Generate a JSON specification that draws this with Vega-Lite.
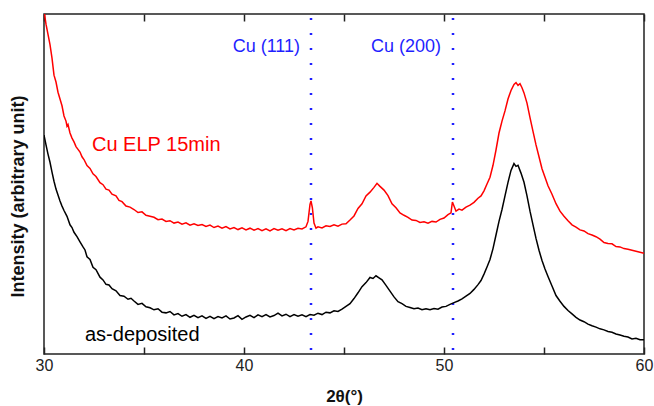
{
  "$schema": "https://vega.github.io/schema/vega-lite/v6.json",
  "width": 600,
  "height": 340,
  "autosize": {"type": "none"},
  "padding": {"left": 44, "top": 14, "right": 10, "bottom": 52},
  "config": {
    "view": {"stroke": "#222", "strokeWidth": 1.5},
    "font": "Liberation Sans",
    "axis": {"grid": false, "domainColor": "#222", "domainWidth": 1.5, "tickColor": "#222", "tickWidth": 1.5}
  },
  "datasets": {
    "curves": [
      {"x":30.0,"v":101,"s":"Cu ELP 15min"},{"x":30.1,"v":97,"s":"Cu ELP 15min"},{"x":30.2,"v":94,"s":"Cu ELP 15min"},{"x":30.3,"v":91,"s":"Cu ELP 15min"},{"x":30.4,"v":87,"s":"Cu ELP 15min"},{"x":30.5,"v":82,"s":"Cu ELP 15min"},{"x":30.6,"v":80,"s":"Cu ELP 15min"},{"x":30.7,"v":77,"s":"Cu ELP 15min"},{"x":30.8,"v":75,"s":"Cu ELP 15min"},{"x":30.9,"v":73,"s":"Cu ELP 15min"},
      {"x":31.0,"v":70,"s":"Cu ELP 15min"},{"x":31.1,"v":68.5,"s":"Cu ELP 15min"},{"x":31.15,"v":67,"s":"Cu ELP 15min"},{"x":31.2,"v":67.5,"s":"Cu ELP 15min"},{"x":31.3,"v":65,"s":"Cu ELP 15min"},{"x":31.4,"v":63.5,"s":"Cu ELP 15min"},{"x":31.5,"v":62.4,"s":"Cu ELP 15min"},{"x":31.6,"v":61,"s":"Cu ELP 15min"},{"x":31.7,"v":60.2,"s":"Cu ELP 15min"},{"x":31.8,"v":59.4,"s":"Cu ELP 15min"},
      {"x":31.9,"v":58,"s":"Cu ELP 15min"},{"x":32.0,"v":57.2,"s":"Cu ELP 15min"},{"x":32.15,"v":55.4,"s":"Cu ELP 15min"},{"x":32.3,"v":54.6,"s":"Cu ELP 15min"},{"x":32.45,"v":53,"s":"Cu ELP 15min"},{"x":32.6,"v":52.2,"s":"Cu ELP 15min"},{"x":32.8,"v":50.4,"s":"Cu ELP 15min"},{"x":32.95,"v":49.8,"s":"Cu ELP 15min"},{"x":33.1,"v":48.5,"s":"Cu ELP 15min"},{"x":33.25,"v":48.2,"s":"Cu ELP 15min"},
      {"x":33.4,"v":47,"s":"Cu ELP 15min"},{"x":33.6,"v":46.5,"s":"Cu ELP 15min"},{"x":33.75,"v":45.2,"s":"Cu ELP 15min"},{"x":33.9,"v":44.8,"s":"Cu ELP 15min"},{"x":34.1,"v":43.5,"s":"Cu ELP 15min"},{"x":34.3,"v":43.2,"s":"Cu ELP 15min"},{"x":34.5,"v":42.5,"s":"Cu ELP 15min"},{"x":34.7,"v":41.6,"s":"Cu ELP 15min"},{"x":34.9,"v":41.8,"s":"Cu ELP 15min"},{"x":35.1,"v":40.8,"s":"Cu ELP 15min"},
      {"x":35.3,"v":40.5,"s":"Cu ELP 15min"},{"x":35.5,"v":40.2,"s":"Cu ELP 15min"},{"x":35.7,"v":39.5,"s":"Cu ELP 15min"},{"x":35.9,"v":39.7,"s":"Cu ELP 15min"},{"x":36.1,"v":39.0,"s":"Cu ELP 15min"},{"x":36.3,"v":39.2,"s":"Cu ELP 15min"},{"x":36.5,"v":38.5,"s":"Cu ELP 15min"},{"x":36.7,"v":38.8,"s":"Cu ELP 15min"},{"x":36.9,"v":38.2,"s":"Cu ELP 15min"},{"x":37.1,"v":38.6,"s":"Cu ELP 15min"},
      {"x":37.3,"v":37.9,"s":"Cu ELP 15min"},{"x":37.5,"v":38.3,"s":"Cu ELP 15min"},{"x":37.7,"v":37.8,"s":"Cu ELP 15min"},{"x":37.9,"v":38.1,"s":"Cu ELP 15min"},{"x":38.1,"v":37.5,"s":"Cu ELP 15min"},{"x":38.3,"v":37.9,"s":"Cu ELP 15min"},{"x":38.5,"v":37.2,"s":"Cu ELP 15min"},{"x":38.7,"v":37.6,"s":"Cu ELP 15min"},{"x":38.9,"v":37.0,"s":"Cu ELP 15min"},{"x":39.1,"v":37.5,"s":"Cu ELP 15min"},
      {"x":39.3,"v":36.8,"s":"Cu ELP 15min"},{"x":39.5,"v":37.2,"s":"Cu ELP 15min"},{"x":39.7,"v":36.6,"s":"Cu ELP 15min"},{"x":39.9,"v":37.1,"s":"Cu ELP 15min"},{"x":40.1,"v":36.5,"s":"Cu ELP 15min"},{"x":40.3,"v":37.0,"s":"Cu ELP 15min"},{"x":40.5,"v":36.4,"s":"Cu ELP 15min"},{"x":40.7,"v":36.9,"s":"Cu ELP 15min"},{"x":40.9,"v":36.3,"s":"Cu ELP 15min"},{"x":41.1,"v":36.8,"s":"Cu ELP 15min"},
      {"x":41.3,"v":36.2,"s":"Cu ELP 15min"},{"x":41.5,"v":36.9,"s":"Cu ELP 15min"},{"x":41.7,"v":36.4,"s":"Cu ELP 15min"},{"x":41.9,"v":36.8,"s":"Cu ELP 15min"},{"x":42.1,"v":36.3,"s":"Cu ELP 15min"},{"x":42.3,"v":36.9,"s":"Cu ELP 15min"},{"x":42.5,"v":36.5,"s":"Cu ELP 15min"},{"x":42.7,"v":37.0,"s":"Cu ELP 15min"},{"x":42.9,"v":36.8,"s":"Cu ELP 15min"},{"x":43.1,"v":37.4,"s":"Cu ELP 15min"},
      {"x":43.2,"v":39,"s":"Cu ELP 15min"},{"x":43.3,"v":44,"s":"Cu ELP 15min"},{"x":43.35,"v":45,"s":"Cu ELP 15min"},{"x":43.42,"v":43,"s":"Cu ELP 15min"},{"x":43.5,"v":38.5,"s":"Cu ELP 15min"},{"x":43.6,"v":37.0,"s":"Cu ELP 15min"},{"x":43.7,"v":37.4,"s":"Cu ELP 15min"},{"x":43.9,"v":37.1,"s":"Cu ELP 15min"},{"x":44.1,"v":37.7,"s":"Cu ELP 15min"},{"x":44.3,"v":37.5,"s":"Cu ELP 15min"},
      {"x":44.5,"v":38.0,"s":"Cu ELP 15min"},{"x":44.7,"v":37.6,"s":"Cu ELP 15min"},{"x":44.9,"v":38.2,"s":"Cu ELP 15min"},{"x":45.1,"v":38.3,"s":"Cu ELP 15min"},{"x":45.3,"v":39.4,"s":"Cu ELP 15min"},{"x":45.5,"v":40.6,"s":"Cu ELP 15min"},{"x":45.7,"v":42.8,"s":"Cu ELP 15min"},{"x":45.9,"v":44.2,"s":"Cu ELP 15min"},{"x":46.1,"v":46.5,"s":"Cu ELP 15min"},{"x":46.3,"v":47.6,"s":"Cu ELP 15min"},
      {"x":46.5,"v":49.0,"s":"Cu ELP 15min"},{"x":46.65,"v":50.2,"s":"Cu ELP 15min"},{"x":46.8,"v":49.3,"s":"Cu ELP 15min"},{"x":47.0,"v":48.2,"s":"Cu ELP 15min"},{"x":47.2,"v":46.6,"s":"Cu ELP 15min"},{"x":47.4,"v":44.2,"s":"Cu ELP 15min"},{"x":47.6,"v":43.0,"s":"Cu ELP 15min"},{"x":47.8,"v":41.5,"s":"Cu ELP 15min"},{"x":48.0,"v":40.8,"s":"Cu ELP 15min"},{"x":48.2,"v":40.2,"s":"Cu ELP 15min"},
      {"x":48.4,"v":39.4,"s":"Cu ELP 15min"},{"x":48.6,"v":39.3,"s":"Cu ELP 15min"},{"x":48.8,"v":38.7,"s":"Cu ELP 15min"},{"x":49.0,"v":38.9,"s":"Cu ELP 15min"},{"x":49.2,"v":38.5,"s":"Cu ELP 15min"},{"x":49.4,"v":39.0,"s":"Cu ELP 15min"},{"x":49.6,"v":38.8,"s":"Cu ELP 15min"},{"x":49.8,"v":39.6,"s":"Cu ELP 15min"},{"x":50.0,"v":40.0,"s":"Cu ELP 15min"},{"x":50.2,"v":41.0,"s":"Cu ELP 15min"},
      {"x":50.35,"v":41.5,"s":"Cu ELP 15min"},{"x":50.42,"v":44.7,"s":"Cu ELP 15min"},{"x":50.5,"v":43.5,"s":"Cu ELP 15min"},{"x":50.6,"v":42.0,"s":"Cu ELP 15min"},{"x":50.75,"v":42.6,"s":"Cu ELP 15min"},{"x":50.9,"v":42.3,"s":"Cu ELP 15min"},{"x":51.1,"v":43.2,"s":"Cu ELP 15min"},{"x":51.3,"v":43.8,"s":"Cu ELP 15min"},{"x":51.5,"v":44.6,"s":"Cu ELP 15min"},{"x":51.7,"v":45.8,"s":"Cu ELP 15min"},
      {"x":51.85,"v":46.5,"s":"Cu ELP 15min"},{"x":52.0,"v":48.0,"s":"Cu ELP 15min"},{"x":52.15,"v":50.0,"s":"Cu ELP 15min"},{"x":52.3,"v":52.0,"s":"Cu ELP 15min"},{"x":52.45,"v":55.5,"s":"Cu ELP 15min"},{"x":52.6,"v":60,"s":"Cu ELP 15min"},{"x":52.75,"v":65,"s":"Cu ELP 15min"},{"x":52.9,"v":68.5,"s":"Cu ELP 15min"},{"x":53.05,"v":71.5,"s":"Cu ELP 15min"},{"x":53.2,"v":75,"s":"Cu ELP 15min"},
      {"x":53.35,"v":77.5,"s":"Cu ELP 15min"},{"x":53.5,"v":79.3,"s":"Cu ELP 15min"},{"x":53.6,"v":79.8,"s":"Cu ELP 15min"},{"x":53.7,"v":79.0,"s":"Cu ELP 15min"},{"x":53.8,"v":79.5,"s":"Cu ELP 15min"},{"x":53.9,"v":78.3,"s":"Cu ELP 15min"},{"x":54.0,"v":76.8,"s":"Cu ELP 15min"},{"x":54.15,"v":73.8,"s":"Cu ELP 15min"},{"x":54.3,"v":69.5,"s":"Cu ELP 15min"},{"x":54.45,"v":65.5,"s":"Cu ELP 15min"},
      {"x":54.6,"v":61.5,"s":"Cu ELP 15min"},{"x":54.75,"v":58,"s":"Cu ELP 15min"},{"x":54.9,"v":54.5,"s":"Cu ELP 15min"},{"x":55.05,"v":52,"s":"Cu ELP 15min"},{"x":55.2,"v":49.5,"s":"Cu ELP 15min"},{"x":55.4,"v":47,"s":"Cu ELP 15min"},{"x":55.6,"v":44.2,"s":"Cu ELP 15min"},{"x":55.8,"v":42,"s":"Cu ELP 15min"},{"x":56.0,"v":40.5,"s":"Cu ELP 15min"},{"x":56.2,"v":39.2,"s":"Cu ELP 15min"},
      {"x":56.4,"v":38.0,"s":"Cu ELP 15min"},{"x":56.6,"v":37.3,"s":"Cu ELP 15min"},{"x":56.8,"v":36.5,"s":"Cu ELP 15min"},{"x":57.0,"v":36.2,"s":"Cu ELP 15min"},{"x":57.2,"v":35.4,"s":"Cu ELP 15min"},{"x":57.4,"v":35.0,"s":"Cu ELP 15min"},{"x":57.6,"v":34.5,"s":"Cu ELP 15min"},{"x":57.8,"v":33.8,"s":"Cu ELP 15min"},{"x":58.0,"v":32.8,"s":"Cu ELP 15min"},{"x":58.2,"v":32.5,"s":"Cu ELP 15min"},
      {"x":58.4,"v":32.4,"s":"Cu ELP 15min"},{"x":58.6,"v":31.6,"s":"Cu ELP 15min"},{"x":58.8,"v":31.5,"s":"Cu ELP 15min"},{"x":59.0,"v":31.0,"s":"Cu ELP 15min"},{"x":59.2,"v":30.8,"s":"Cu ELP 15min"},{"x":59.4,"v":30.5,"s":"Cu ELP 15min"},{"x":59.6,"v":30.2,"s":"Cu ELP 15min"},{"x":59.8,"v":29.9,"s":"Cu ELP 15min"},{"x":60.0,"v":29.6,"s":"Cu ELP 15min"},

      {"x":30.0,"v":64.4,"s":"as-deposited"},{"x":30.1,"v":61.5,"s":"as-deposited"},{"x":30.2,"v":58.8,"s":"as-deposited"},{"x":30.3,"v":56.4,"s":"as-deposited"},{"x":30.4,"v":53.5,"s":"as-deposited"},{"x":30.5,"v":50.8,"s":"as-deposited"},{"x":30.6,"v":48.5,"s":"as-deposited"},{"x":30.7,"v":46.8,"s":"as-deposited"},{"x":30.8,"v":45.0,"s":"as-deposited"},{"x":30.9,"v":43.5,"s":"as-deposited"},
      {"x":31.0,"v":42.2,"s":"as-deposited"},{"x":31.15,"v":40.5,"s":"as-deposited"},{"x":31.3,"v":38.0,"s":"as-deposited"},{"x":31.4,"v":37.2,"s":"as-deposited"},{"x":31.5,"v":35.8,"s":"as-deposited"},{"x":31.65,"v":34.5,"s":"as-deposited"},{"x":31.8,"v":33.0,"s":"as-deposited"},{"x":31.95,"v":31.5,"s":"as-deposited"},{"x":32.05,"v":30.6,"s":"as-deposited"},{"x":32.15,"v":28.6,"s":"as-deposited"},
      {"x":32.3,"v":27.8,"s":"as-deposited"},{"x":32.45,"v":25.5,"s":"as-deposited"},{"x":32.6,"v":24.8,"s":"as-deposited"},{"x":32.8,"v":22.6,"s":"as-deposited"},{"x":32.95,"v":21.8,"s":"as-deposited"},{"x":33.1,"v":20.5,"s":"as-deposited"},{"x":33.25,"v":20.3,"s":"as-deposited"},{"x":33.4,"v":19.2,"s":"as-deposited"},{"x":33.6,"v":18.6,"s":"as-deposited"},{"x":33.8,"v":17.2,"s":"as-deposited"},
      {"x":34.0,"v":17.0,"s":"as-deposited"},{"x":34.2,"v":16.1,"s":"as-deposited"},{"x":34.35,"v":16.4,"s":"as-deposited"},{"x":34.5,"v":15.6,"s":"as-deposited"},{"x":34.7,"v":14.6,"s":"as-deposited"},{"x":34.9,"v":14.9,"s":"as-deposited"},{"x":35.1,"v":13.9,"s":"as-deposited"},{"x":35.3,"v":13.6,"s":"as-deposited"},{"x":35.5,"v":13.0,"s":"as-deposited"},{"x":35.7,"v":13.3,"s":"as-deposited"},
      {"x":35.9,"v":12.3,"s":"as-deposited"},{"x":36.1,"v":12.1,"s":"as-deposited"},{"x":36.3,"v":12.5,"s":"as-deposited"},{"x":36.5,"v":11.5,"s":"as-deposited"},{"x":36.7,"v":11.9,"s":"as-deposited"},{"x":36.9,"v":11.1,"s":"as-deposited"},{"x":37.1,"v":11.6,"s":"as-deposited"},{"x":37.3,"v":10.8,"s":"as-deposited"},{"x":37.5,"v":11.4,"s":"as-deposited"},{"x":37.7,"v":10.7,"s":"as-deposited"},
      {"x":37.9,"v":11.2,"s":"as-deposited"},{"x":38.1,"v":10.5,"s":"as-deposited"},{"x":38.3,"v":11.1,"s":"as-deposited"},{"x":38.5,"v":10.4,"s":"as-deposited"},{"x":38.7,"v":11.0,"s":"as-deposited"},{"x":38.9,"v":10.6,"s":"as-deposited"},{"x":39.1,"v":11.2,"s":"as-deposited"},{"x":39.3,"v":10.3,"s":"as-deposited"},{"x":39.5,"v":10.6,"s":"as-deposited"},{"x":39.7,"v":11.3,"s":"as-deposited"},
      {"x":39.9,"v":10.2,"s":"as-deposited"},{"x":40.1,"v":10.9,"s":"as-deposited"},{"x":40.3,"v":11.4,"s":"as-deposited"},{"x":40.5,"v":10.7,"s":"as-deposited"},{"x":40.7,"v":11.5,"s":"as-deposited"},{"x":40.9,"v":11.0,"s":"as-deposited"},{"x":41.1,"v":11.6,"s":"as-deposited"},{"x":41.3,"v":10.9,"s":"as-deposited"},{"x":41.5,"v":11.3,"s":"as-deposited"},{"x":41.7,"v":12.0,"s":"as-deposited"},
      {"x":41.9,"v":11.2,"s":"as-deposited"},{"x":42.1,"v":11.7,"s":"as-deposited"},{"x":42.3,"v":11.0,"s":"as-deposited"},{"x":42.5,"v":11.6,"s":"as-deposited"},{"x":42.7,"v":11.1,"s":"as-deposited"},{"x":42.9,"v":11.5,"s":"as-deposited"},{"x":43.1,"v":11.0,"s":"as-deposited"},{"x":43.3,"v":11.6,"s":"as-deposited"},{"x":43.5,"v":11.4,"s":"as-deposited"},{"x":43.7,"v":12.0,"s":"as-deposited"},
      {"x":43.9,"v":11.6,"s":"as-deposited"},{"x":44.1,"v":12.3,"s":"as-deposited"},{"x":44.3,"v":12.1,"s":"as-deposited"},{"x":44.5,"v":12.7,"s":"as-deposited"},{"x":44.7,"v":12.5,"s":"as-deposited"},{"x":44.9,"v":13.2,"s":"as-deposited"},{"x":45.1,"v":14.0,"s":"as-deposited"},{"x":45.3,"v":14.8,"s":"as-deposited"},{"x":45.5,"v":16.3,"s":"as-deposited"},{"x":45.7,"v":18.0,"s":"as-deposited"},
      {"x":45.9,"v":19.8,"s":"as-deposited"},{"x":46.1,"v":21.0,"s":"as-deposited"},{"x":46.3,"v":22.5,"s":"as-deposited"},{"x":46.45,"v":22.2,"s":"as-deposited"},{"x":46.6,"v":23.0,"s":"as-deposited"},{"x":46.75,"v":22.4,"s":"as-deposited"},{"x":46.9,"v":21.8,"s":"as-deposited"},{"x":47.1,"v":20.2,"s":"as-deposited"},{"x":47.3,"v":18.5,"s":"as-deposited"},{"x":47.5,"v":16.8,"s":"as-deposited"},
      {"x":47.7,"v":15.4,"s":"as-deposited"},{"x":47.9,"v":14.8,"s":"as-deposited"},{"x":48.1,"v":14.0,"s":"as-deposited"},{"x":48.3,"v":13.7,"s":"as-deposited"},{"x":48.5,"v":13.3,"s":"as-deposited"},{"x":48.7,"v":13.5,"s":"as-deposited"},{"x":48.9,"v":13.0,"s":"as-deposited"},{"x":49.1,"v":13.3,"s":"as-deposited"},{"x":49.3,"v":13.0,"s":"as-deposited"},{"x":49.5,"v":13.4,"s":"as-deposited"},
      {"x":49.7,"v":13.2,"s":"as-deposited"},{"x":49.9,"v":13.8,"s":"as-deposited"},{"x":50.1,"v":14.0,"s":"as-deposited"},{"x":50.3,"v":14.6,"s":"as-deposited"},{"x":50.5,"v":15.1,"s":"as-deposited"},{"x":50.7,"v":15.6,"s":"as-deposited"},{"x":50.9,"v":16.2,"s":"as-deposited"},{"x":51.1,"v":17.0,"s":"as-deposited"},{"x":51.3,"v":17.8,"s":"as-deposited"},{"x":51.5,"v":19.0,"s":"as-deposited"},
      {"x":51.7,"v":20.4,"s":"as-deposited"},{"x":51.85,"v":21.6,"s":"as-deposited"},{"x":52.0,"v":23.5,"s":"as-deposited"},{"x":52.15,"v":25.6,"s":"as-deposited"},{"x":52.3,"v":27.8,"s":"as-deposited"},{"x":52.45,"v":31,"s":"as-deposited"},{"x":52.6,"v":35,"s":"as-deposited"},{"x":52.75,"v":39,"s":"as-deposited"},{"x":52.9,"v":42.5,"s":"as-deposited"},{"x":53.05,"v":46.5,"s":"as-deposited"},
      {"x":53.2,"v":50.5,"s":"as-deposited"},{"x":53.35,"v":54,"s":"as-deposited"},{"x":53.5,"v":56,"s":"as-deposited"},{"x":53.6,"v":55.2,"s":"as-deposited"},{"x":53.7,"v":55.5,"s":"as-deposited"},{"x":53.85,"v":53.2,"s":"as-deposited"},{"x":54.0,"v":50.5,"s":"as-deposited"},{"x":54.15,"v":46.5,"s":"as-deposited"},{"x":54.3,"v":42,"s":"as-deposited"},{"x":54.45,"v":38,"s":"as-deposited"},
      {"x":54.6,"v":34,"s":"as-deposited"},{"x":54.75,"v":30.5,"s":"as-deposited"},{"x":54.9,"v":27.5,"s":"as-deposited"},{"x":55.05,"v":25,"s":"as-deposited"},{"x":55.2,"v":22.8,"s":"as-deposited"},{"x":55.4,"v":20,"s":"as-deposited"},{"x":55.6,"v":17.2,"s":"as-deposited"},{"x":55.8,"v":15.5,"s":"as-deposited"},{"x":56.0,"v":14,"s":"as-deposited"},{"x":56.2,"v":12.8,"s":"as-deposited"},
      {"x":56.4,"v":11.8,"s":"as-deposited"},{"x":56.6,"v":10.8,"s":"as-deposited"},{"x":56.8,"v":10.0,"s":"as-deposited"},{"x":57.0,"v":9.5,"s":"as-deposited"},{"x":57.2,"v":8.8,"s":"as-deposited"},{"x":57.4,"v":8.3,"s":"as-deposited"},{"x":57.6,"v":7.9,"s":"as-deposited"},{"x":57.8,"v":7.4,"s":"as-deposited"},{"x":58.0,"v":7.1,"s":"as-deposited"},{"x":58.2,"v":6.6,"s":"as-deposited"},
      {"x":58.4,"v":6.4,"s":"as-deposited"},{"x":58.6,"v":5.9,"s":"as-deposited"},{"x":58.8,"v":5.6,"s":"as-deposited"},{"x":59.0,"v":5.2,"s":"as-deposited"},{"x":59.2,"v":5.0,"s":"as-deposited"},{"x":59.4,"v":4.4,"s":"as-deposited"},{"x":59.6,"v":4.6,"s":"as-deposited"},{"x":59.8,"v":4.2,"s":"as-deposited"},{"x":60.0,"v":4.2,"s":"as-deposited"}
    ],
    "peaks": [
      {"x": 43.35, "label": "Cu (111)", "lx": 42.8, "ly": 90.3},
      {"x": 50.45, "label": "Cu (200)", "lx": 49.85, "ly": 90.3}
    ],
    "names": [
      {"s": "Cu ELP 15min", "lx": 32.4, "ly": 61.5},
      {"s": "as-deposited", "lx": 32.05, "ly": 5.7}
    ]
  },
  "resolve": {"axis": {"x": "independent"}},
  "layer": [
    {
      "data": {"name": "peaks"},
      "mark": {"type": "rule", "color": "#1f1fff", "strokeWidth": 2.5, "strokeDash": [2, 13], "strokeDashOffset": -4},
      "encoding": {
        "x": {"field": "x", "type": "quantitative", "scale": {"domain": [30, 60], "nice": false, "zero": false},
          "axis": {"orient": "top", "labels": false, "title": null, "values": [30,35,40,45,50,55,60], "tickSize": 7, "offset": -7, "domain": false}}
      }
    },
    {
      "data": {"name": "curves"},
      "mark": {"type": "line", "strokeWidth": 1.5, "clip": true, "interpolate": "linear"},
      "encoding": {
        "x": {"field": "x", "type": "quantitative", "scale": {"domain": [30, 60], "nice": false, "zero": false},
          "axis": {"orient": "bottom", "title": "2θ(°)", "values": [30,35,40,45,50,55,60], "labelExpr": "datum.value % 10 === 0 ? datum.label : ''", "tickSize": 7, "offset": -7, "domain": false, "labelFlush": false, "labelFontSize": 16, "labelColor": "#222", "labelPadding": 3, "titleFontSize": 17, "titleFontWeight": "bold", "titleColor": "#111", "titlePadding": 15}},
        "y": {"field": "v", "type": "quantitative", "scale": {"domain": [0, 100], "nice": false},
          "axis": {"labels": false, "ticks": false, "title": "Intensity (arbitrary unit)", "titleFontSize": 18, "titleFontWeight": "bold", "titleColor": "#111", "titleY": 182, "titleX": -26, "titleBaseline": "middle", "titleAlign": "center", "domain": false}},
        "color": {"field": "s", "type": "nominal", "scale": {"domain": ["Cu ELP 15min", "as-deposited"], "range": ["#ff0000", "#000000"]}, "legend": null},
        "detail": {"field": "s"}
      }
    },
    {
      "data": {"name": "peaks"},
      "mark": {"type": "text", "align": "right", "baseline": "middle", "fontSize": 18, "color": "#1f1fff"},
      "encoding": {
        "x": {"field": "lx", "type": "quantitative", "axis": null},
        "y": {"field": "ly", "type": "quantitative"},
        "text": {"field": "label"}
      }
    },
    {
      "data": {"name": "names"},
      "mark": {"type": "text", "align": "left", "baseline": "middle", "fontSize": 20},
      "encoding": {
        "x": {"field": "lx", "type": "quantitative", "axis": null},
        "y": {"field": "ly", "type": "quantitative"},
        "text": {"field": "s"},
        "color": {"field": "s", "type": "nominal", "legend": null}
      }
    }
  ]
}
